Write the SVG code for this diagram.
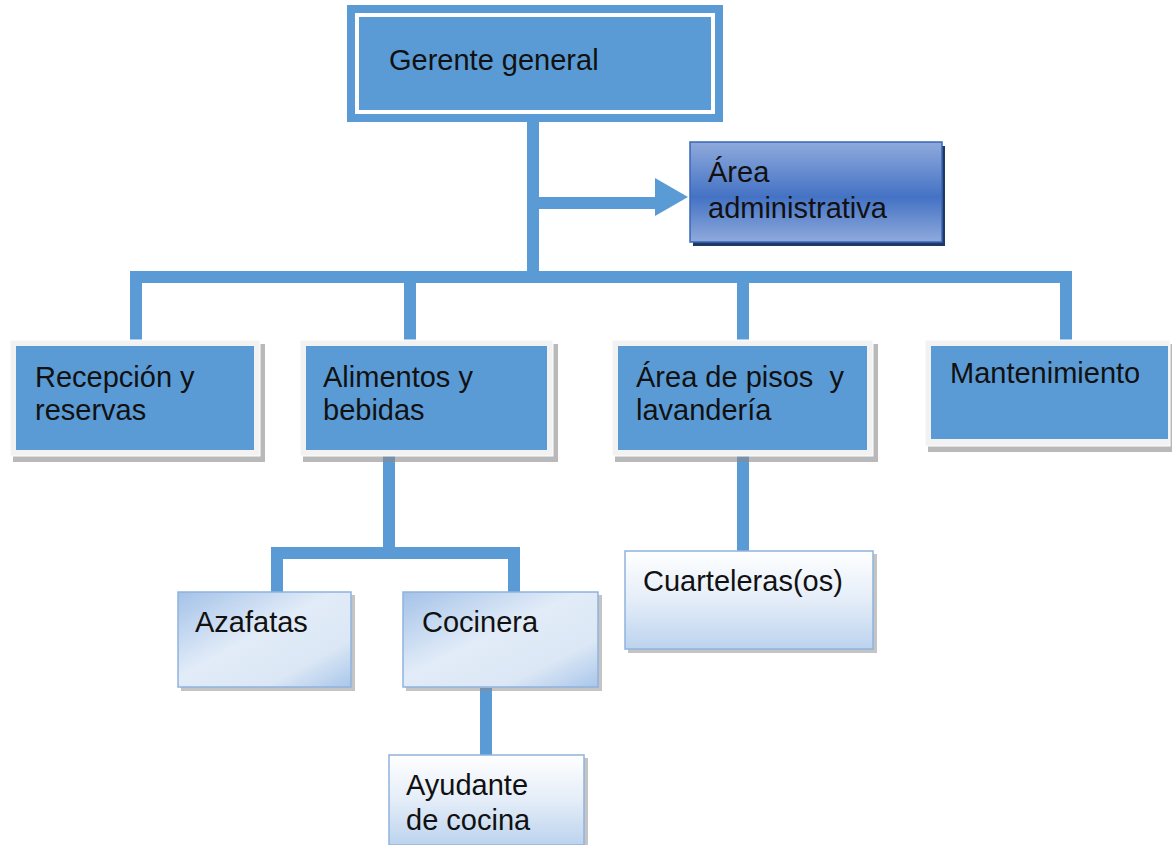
<svg xmlns="http://www.w3.org/2000/svg" width="1172" height="845" viewBox="0 0 1172 845">
<defs>
<linearGradient id="adm" x1="0" y1="0" x2="0" y2="1">
<stop offset="0" stop-color="#8faadc"/>
<stop offset="0.55" stop-color="#4472c4"/>
<stop offset="1" stop-color="#8faadc"/>
</linearGradient>
<linearGradient id="light" x1="0" y1="0" x2="1" y2="1">
<stop offset="0" stop-color="#a4c2e8"/>
<stop offset="0.45" stop-color="#e2ecf8"/>
<stop offset="0.75" stop-color="#dbe7f5"/>
<stop offset="1" stop-color="#a9c6ea"/>
</linearGradient>
<linearGradient id="light2" x1="0" y1="0" x2="0" y2="1">
<stop offset="0" stop-color="#ffffff"/>
<stop offset="0.5" stop-color="#e4edf8"/>
<stop offset="1" stop-color="#bcd3ee"/>
</linearGradient>
</defs>
<style>
.t{font-family:"Liberation Sans",Arial,sans-serif;font-size:29px;fill:#111;white-space:pre}
.blue{fill:#5b9bd5}
.frame{fill:#f2f2f2;stroke:#ffffff;stroke-width:1}
.shadow{fill:#8a8a8a}
.conn{fill:none;stroke:#5b9bd5;stroke-width:12;stroke-linejoin:miter}
.lb{stroke:#8fb3de;stroke-width:1.5}
</style>

<g id="connectors">
<path class="conn" d="M533 120 V276"/>
<path class="conn" d="M539 203 H658"/>
<polygon fill="#5b9bd5" points="655,178 688,197 655,216"/>
<path class="conn" d="M136 342 V277 H1066 V342"/>
<path class="conn" d="M410 277 V342"/>
<path class="conn" d="M743 277 V342"/>
<path class="conn" d="M389 455 V553"/>
<path class="conn" d="M277 592 V553 H514 V592"/>
<path class="conn" d="M743 455 V551"/>
<path class="conn" d="M486 688 V755"/>
</g>

<g id="gerente">
<rect x="347" y="5" width="376" height="117" class="blue"/>
<rect x="357" y="15" width="356" height="97" fill="none" stroke="#ffffff" stroke-width="4"/>
<text class="t" x="389" y="70">Gerente general</text>
</g>

<g id="administrativa">
<rect x="693" y="146" width="252" height="100" fill="#1f3864"/>
<rect x="690" y="142" width="252" height="100" fill="url(#adm)" stroke="#3a66b8" stroke-width="1.5"/>
<text class="t" x="708" y="182">Área</text>
<text class="t" x="708" y="218">administrativa</text>
</g>

<g id="recepcion">
<rect x="13" y="344" width="252" height="118" class="shadow" opacity="0.6"/>
<rect x="10" y="340" width="250" height="116" class="frame"/>
<rect x="16" y="346" width="238" height="104" class="blue"/>
<text class="t" x="35" y="387">Recepción y</text>
<text class="t" x="35" y="420">reservas</text>
</g>

<g id="alimentos">
<rect x="303" y="344" width="255" height="118" class="shadow" opacity="0.6"/>
<rect x="300" y="340" width="253" height="116" class="frame"/>
<rect x="306" y="346" width="241" height="104" class="blue"/>
<text class="t" x="323" y="387">Alimentos y</text>
<text class="t" x="323" y="420">bebidas</text>
</g>

<g id="pisos">
<rect x="615" y="344" width="263" height="118" class="shadow" opacity="0.6"/>
<rect x="612" y="340" width="261" height="116" class="frame"/>
<rect x="618" y="346" width="249" height="104" class="blue"/>
<text class="t" x="636" y="387" xml:space="preserve">Área de pisos  y</text>
<text class="t" x="636" y="420">lavandería</text>
</g>

<g id="mantenimiento">
<rect x="928" y="344" width="244" height="108" class="shadow" opacity="0.6"/>
<rect x="925" y="340" width="245" height="106" class="frame"/>
<rect x="931" y="346" width="237" height="93" class="blue"/>
<text class="t" x="950" y="383">Mantenimiento</text>
</g>

<g id="azafatas">
<rect x="181" y="595" width="174" height="96" class="shadow" opacity="0.5"/>
<rect x="178" y="592" width="173" height="95" fill="url(#light)" class="lb"/>
<text class="t" x="195" y="632">Azafatas</text>
</g>

<g id="cocinera">
<rect x="406" y="595" width="196" height="96" class="shadow" opacity="0.5"/>
<rect x="403" y="592" width="195" height="95" fill="url(#light)" class="lb"/>
<text class="t" x="422" y="632">Cocinera</text>
</g>

<g id="cuarteleras">
<rect x="628" y="554" width="249" height="99" class="shadow" opacity="0.5"/>
<rect x="625" y="551" width="248" height="98" fill="url(#light2)" class="lb"/>
<text class="t" x="643" y="591">Cuarteleras(os)</text>
</g>

<g id="ayudante">
<rect x="392" y="758" width="196" height="90" class="shadow" opacity="0.5"/>
<rect x="389" y="755" width="195" height="90" fill="url(#light2)" class="lb"/>
<text class="t" x="406" y="795">Ayudante</text>
<text class="t" x="406" y="830">de cocina</text>
</g>
</svg>
